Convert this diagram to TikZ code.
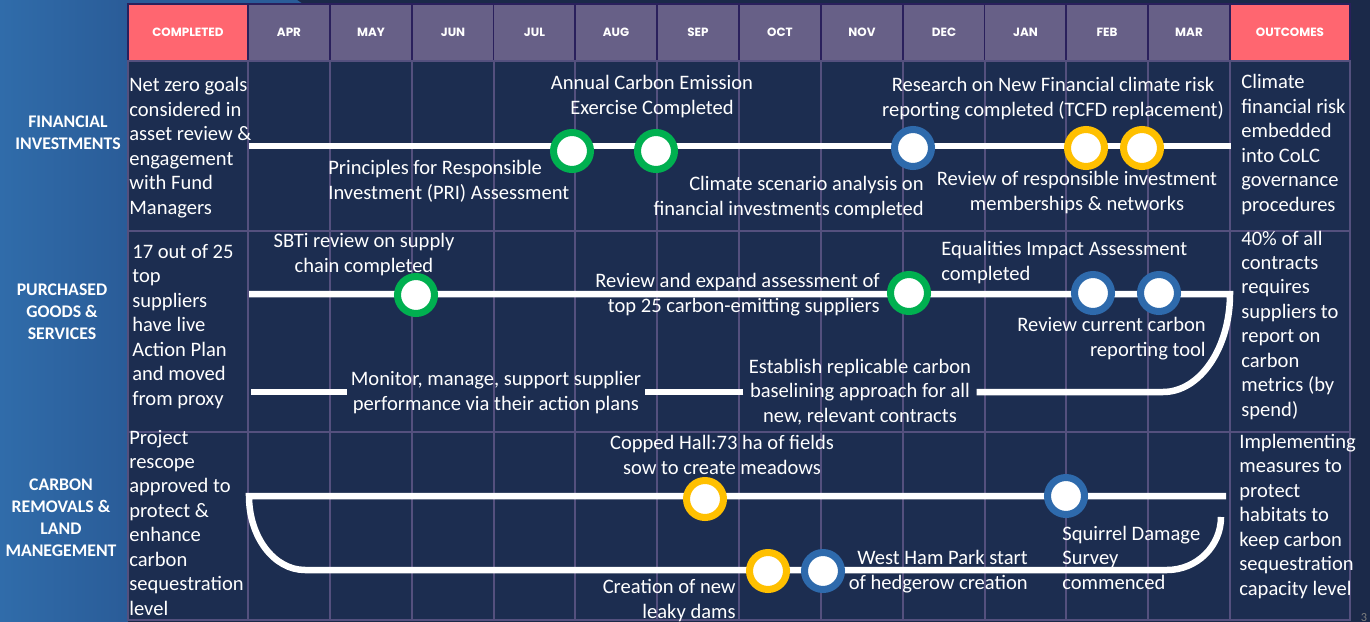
\documentclass[tikz,border=0pt]{standalone}
\usepackage{fontspec}
\setmainfont{Carlito}
\newfontfamily\hdrfont{Poppins}
\definecolor{navy}{RGB}{28,45,80}
\definecolor{navyout}{RGB}{27,41,73}
\definecolor{gridc}{RGB}{84,80,126}
\definecolor{hdrc}{RGB}{103,96,135}
\definecolor{hdrline}{RGB}{42,32,92}
\definecolor{redc}{RGB}{255,102,112}
\definecolor{panela}{RGB}{48,108,170}
\definecolor{panelb}{RGB}{42,92,152}
\definecolor{cgreen}{RGB}{0,176,80}
\definecolor{cblue}{RGB}{46,106,172}
\definecolor{cyellow}{RGB}{255,192,0}
\tikzset{
	hdr/.style={fill=hdrc, draw=hdrline, line width=0.8pt, minimum width=1.636cm, minimum height=1.14cm, inner sep=0, text=white, font=\hdrfont\bfseries\fontsize{6.8}{8}\selectfont},
	hdrred/.style={hdr, fill=redc, minimum width=2.4cm},
	rowlbl/.style={text=white, inner sep=0, align=center, anchor=base, font=\bfseries\fontsize{10.1}{12.4}\selectfont},
	txt/.style={text=white, inner sep=0, font=\fontsize{11.7}{13.9}\selectfont},
	track/.style={white, line width=3.7pt},
	ms/.style={circle, fill=white, line width=4pt, minimum size=0.74cm, inner sep=0},
	msg/.style={ms, draw=cgreen},
	msb/.style={ms, draw=cblue},
	msy/.style={ms, draw=cyellow},
	gridline/.style={gridc, line width=0.6pt}
}
\begin{document}
\begin{tikzpicture}[x=0.02cm,y=-0.02cm]
	\useasboundingbox (0,0) rectangle (1370,622);
	\fill[navyout] (0,0) rectangle (1370,622);
	\fill[navy] (128,61) rectangle (1350,620);
	\shade[left color=panela, right color=panelb] (0,0) rectangle (128,622);
	\fill[panelb] (128,0) -- (297,0) -- (303,4) -- (128,4) -- cycle;

	\node[hdrred] (done) at (188,32.5) {COMPLETED};
	\node[hdr] (apr) at (289,32.5) {APR};
	\node[hdr] (may) at (371,32.5) {MAY};
	\node[hdr] (jun) at (453,32.5) {JUN};
	\node[hdr] (jul) at (534.5,32.5) {JUL};
	\node[hdr] (aug) at (616,32.5) {AUG};
	\node[hdr] (sep) at (698,32.5) {SEP};
	\node[hdr] (oct) at (780,32.5) {OCT};
	\node[hdr] (nov) at (862,32.5) {NOV};
	\node[hdr] (dec) at (944,32.5) {DEC};
	\node[hdr] (jan) at (1025.5,32.5) {JAN};
	\node[hdr] (feb) at (1107,32.5) {FEB};
	\node[hdr] (mar) at (1189,32.5) {MAR};
	\node[hdrred] (outc) at (1290,32.5) {OUTCOMES};

	\draw[gridline] (128,61) rectangle (1350,620) (128,231) -- (1350,231) (128,432) -- (1350,432);
	\draw[gridline] (248,61) -- (248,620) (330,61) -- (330,620) (412,61) -- (412,620) (494,61) -- (494,620) (575,61) -- (575,620) (657,61) -- (657,620) (739,61) -- (739,620) (821,61) -- (821,620) (903,61) -- (903,620) (985,61) -- (985,620) (1066,61) -- (1066,620) (1148,61) -- (1148,620) (1230,61) -- (1230,620);

	\node[rowlbl] (finrow) at (68,149) {FINANCIAL\\INVESTMENTS};
	\node[rowlbl] (purrow) at (62,339) {PURCHASED\\GOODS \&\\SERVICES};
	\node[rowlbl] (carrow) at (61,556) {CARBON\\REMOVALS \&\\LAND\\MANEGEMENT};

	\node[txt, align=left, anchor=base west] (fdone) at (129,214) {Net zero goals\\considered in\\asset review \&\\engagement\\with Fund\\Managers};
	\node[txt, align=left, anchor=base west] (pdone) at (132,405) {17 out of 25\\top\\suppliers\\have live\\Action Plan\\and moved\\from proxy};
	\node[txt, align=left, anchor=base west] (cdone) at (129,615) {Project\\rescope\\approved to\\protect \&\\enhance\\carbon\\sequestration\\level};
	\node[txt, align=left, anchor=base west] (fout) at (1241,211) {Climate\\financial risk\\embedded\\into CoLC\\governance\\procedures};
	\node[txt, align=left, anchor=base west] (pout) at (1241,416) {40\% of all\\contracts\\requires\\suppliers to\\report on\\carbon\\metrics (by\\spend)};
	\node[txt, align=left, anchor=base west] (cout) at (1239,595) {Implementing\\measures to\\protect\\habitats to\\keep carbon\\sequestration\\capacity level};

	\node[txt, align=center, anchor=base] (acet) at (652,114) {Annual Carbon Emission\\Exercise Completed};
	\node[txt, align=left, anchor=base west] (prit) at (328,199) {Principles for Responsible\\Investment (PRI) Assessment};
	\node[txt, align=right, anchor=base east] (csat) at (924,215) {Climate scenario analysis on\\financial investments completed};
	\node[txt, align=center, anchor=base] (tcfdt) at (1053,116) {Research on New Financial climate risk\\reporting completed (TCFD replacement)};
	\node[txt, align=center, anchor=base] (rrit) at (1077,210) {Review of responsible investment\\memberships \& networks};

	\node[txt, align=center, anchor=base] (sbtit) at (364,272) {SBTi review on supply\\chain completed};
	\node[txt, align=right, anchor=base east] (top25t) at (880,312) {Review and expand assessment of\\top 25 carbon-emitting suppliers};
	\node[txt, align=left, anchor=base west] (eiat) at (941,280) {Equalities Impact Assessment\\completed};
	\node[txt, align=right, anchor=base east] (crtt) at (1206,356) {Review current carbon\\reporting tool};
	\node[txt, align=center, anchor=base, inner xsep=2pt] (monitor) at (496,410) {Monitor, manage, support supplier\\performance via their action plans};
	\node[txt, align=center, anchor=base, inner xsep=3pt] (establish) at (860,422) {Establish replicable carbon\\baselining approach for all\\new, relevant contracts};

	\node[txt, align=center, anchor=base] (coppedt) at (722,474) {Copped Hall:73 ha of fields\\sow to create meadows};
	\node[txt, align=right, anchor=base east] (damst) at (736,618) {Creation of new\\leaky dams};
	\node[txt, align=right, anchor=base east] (hedget) at (1028,589) {West Ham Park start\\of hedgerow creation};
	\node[txt, align=left, anchor=base west] (squirrelt) at (1062,589) {Squirrel Damage\\Survey\\commenced};

	\coordinate (fa) at (249,146);
	\coordinate (fb) at (1231,146);
	\draw[track] (fa) -- (fb);

	\coordinate (pa) at (249,294);
	\coordinate (pb) at (1230,294);
	\coordinate (pd) at (1163,392);
	\coordinate (pe) at (251,392);
	\draw[track] (pa) -- (pb) .. controls (1230,348) and (1200,392) .. (pd) -- (establish.east |- pd);
	\draw[track] (establish.west |- pd) -- (monitor.east |- pd);
	\draw[track] (monitor.west |- pd) -- (pe);

	\coordinate (ca) at (1226,496);
	\coordinate (cb) at (249,496);
	\coordinate (cc) at (305,570);
	\coordinate (cd) at (1167,570);
	\coordinate (ce) at (1221,517);
	\draw[track] (ca) -- (cb) .. controls (249,537) and (274,570) .. (cc) -- (cd) .. controls (1197,570) and (1221,546) .. (ce);

	\node[msg] (pri) at (572,151) {};
	\node[msg] (ace) at (656,151) {};
	\node[msb] (tcfd) at (913,148) {};
	\node[msy] (rri1) at (1086,148) {};
	\node[msy] (rri2) at (1142,148) {};
	\node[msg] (sbti) at (416,295) {};
	\node[msg] (top25) at (909,293) {};
	\node[msb] (eia) at (1093,293) {};
	\node[msb] (crt) at (1159,293) {};
	\node[msy] (copped) at (705,499) {};
	\node[msb] (squirrel) at (1066,496) {};
	\node[msy] (dams) at (768,571) {};
	\node[msb] (hedge) at (823,571) {};

	\node[text=gray, inner sep=0, anchor=north, font=\fontsize{7}{8}\selectfont] (pg) at (1364,613) {3};
\end{tikzpicture}
\end{document}
